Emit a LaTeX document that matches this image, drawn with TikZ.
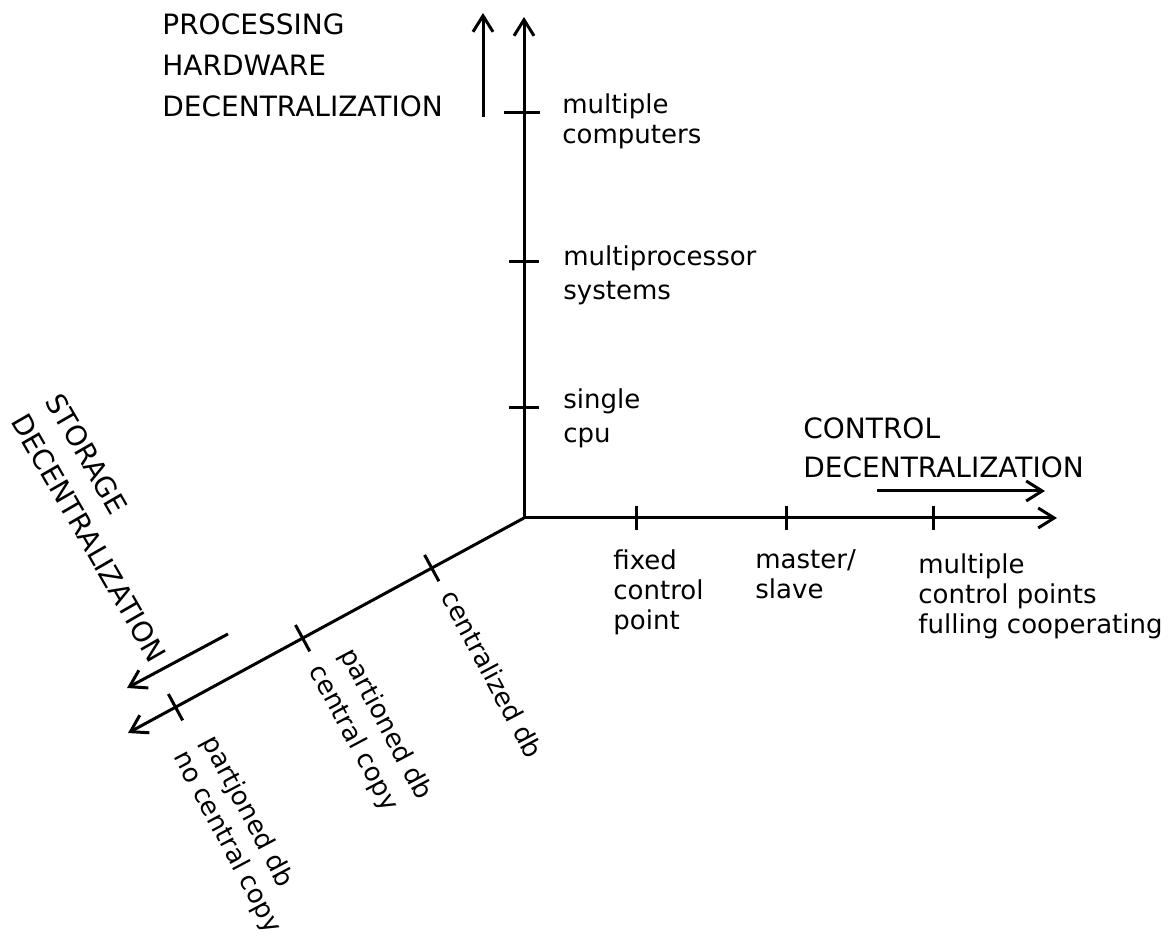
\documentclass[tikz,border=0pt]{standalone}
\usepackage{fontspec}
\setmainfont{DejaVu Sans}
\usetikzlibrary{arrows.meta,calc}

\tikzset{
  axis/.style={line width=1.5pt, ->},
  axtick/.style={line width=1.5pt},
  caps/.style={font=\fontsize{14}{20.5}\selectfont, align=left, inner sep=0pt},
  lbl/.style={font=\fontsize{13}{15}\selectfont, align=left, inner sep=0pt},
}

\begin{document}
\begin{tikzpicture}[>={Straight Barb[length=8pt,width=10pt]}, x=0.5pt, y=0.5pt]
  \useasboundingbox (0,0) rectangle (1173,946);

  % origin and axis ends
  \coordinate (O) at (524,428);
  \coordinate (P) at (524,929);   % processing
  \coordinate (C) at (1057,428);  % control
  \coordinate (S) at (128,213);   % storage

  % axes
  \draw[axis] (O) -- (P);
  \draw[axis] (O) -- (C);
  \draw[axis] (O) -- (S);

  % direction arrows beside the axes
  \coordinate (pa) at (483,829);
  \coordinate (pb) at (483,933);
  \coordinate (ca) at (877,455);
  \coordinate (cb) at (1045,455);
  \coordinate (sa) at (228,312);
  \coordinate (sb) at (127,258);
  \draw[axis] (pa) -- (pb);
  \draw[axis] (ca) -- (cb);
  \draw[axis] (sa) -- (sb);

  % tick positions
  \coordinate (P1) at (524,538);
  \coordinate (P2) at (524,684);
  \coordinate (P3) at (524,833);
  \coordinate (C1) at (636,428);
  \coordinate (C2) at (786,428);
  \coordinate (C3) at (933,428);
  \coordinate (S1) at ($(O)!0.233!(S)$);
  \coordinate (S2) at ($(O)!0.559!(S)$);
  \coordinate (S3) at ($(O)!0.880!(S)$);

  % ticks
  \draw[axtick] (P1) ++(-15,0) -- ++(30,0);
  \draw[axtick] (P2) ++(-15,0) -- ++(30,0);
  \draw[axtick] (P3) ++(-20,0) -- ++(36,0);
  \draw[axtick] (C1) ++(0,-12) -- ++(0,24);
  \draw[axtick] (C2) ++(0,-12) -- ++(0,24);
  \draw[axtick] (C3) ++(0,-12) -- ++(0,24);
  \draw[axtick] (S1) ++(118.5:15) -- ++(-61.5:30);
  \draw[axtick] (S2) ++(118.5:15) -- ++(-61.5:30);
  \draw[axtick] (S3) ++(118.5:15) -- ++(-61.5:30);

  % axis titles
  \node[caps, anchor=north west] (ptitle) at (162,933) {PROCESSING\\HARDWARE\\DECENTRALIZATION};
  \node[caps, anchor=north west, font=\fontsize{14}{19.5}\selectfont] (ctitle) at (803,529) {CONTROL\\DECENTRALIZATION};
  \node[caps, anchor=west, rotate=-60, font=\fontsize{14}{20}\selectfont] (stitle) at (36,540) {STORAGE\\DECENTRALIZATION};

  % processing labels
  \node[lbl, anchor=north west] (p3lbl) at ($(P3)+(38,20)$) {multiple\\computers};
  \node[lbl, anchor=north west] (p2lbl) at ($(P2)+(39,17)$) {multiprocessor\\[2pt]systems};
  \node[lbl, anchor=north west] (p1lbl) at ($(P1)+(39,20)$) {single\\[2pt]cpu};

  % control labels
  \node[lbl, anchor=north west] (c1lbl) at ($(C1)+(-23,-31)$) {fixed\\control\\point};
  \node[lbl, anchor=north west] (c2lbl) at ($(C2)+(-31,-31)$) {master/\\slave};
  \node[lbl, anchor=north west] (c3lbl) at ($(C3)+(-15,-35)$) {multiple\\control points\\fulling cooperating};

  % storage labels
  \node[lbl, anchor=west, rotate=-62] (s1lbl) at ($(S1)+(-62:29)+(28:4)$) {centralized db};
  \node[lbl, anchor=west, rotate=-62, font=\fontsize{13}{17.5}\selectfont] (s2lbl) at ($(S2)+(-62:31)+(28:15)$) {partioned db\\central copy};
  \node[lbl, anchor=west, rotate=-62, font=\fontsize{13}{16}\selectfont] (s3lbl) at ($(S3)+(-62:42)+(28:-2)$) {partjoned db\\no central copy};
\end{tikzpicture}
\end{document}
